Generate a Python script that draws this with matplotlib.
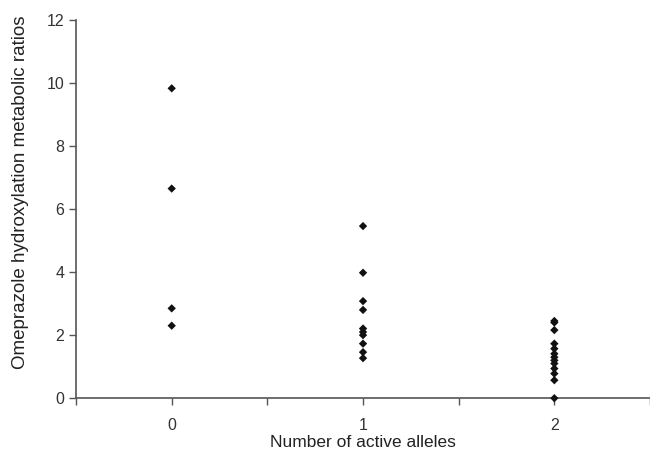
import matplotlib
matplotlib.use("Agg")
import matplotlib.pyplot as plt

alleles_0 = [9.83, 6.65, 2.85, 2.30]
alleles_1 = [5.46, 3.98, 3.08, 2.80, 2.21, 2.10, 2.00, 1.73, 1.46, 1.27]
alleles_2 = [2.45, 2.40, 2.16, 1.73, 1.57, 1.41, 1.30, 1.20, 1.10, 0.94, 0.78, 0.57, 0.0]
groups = [0, 1, 2]
series = [alleles_0, alleles_1, alleles_2]
xlabel = "Number of active alleles"
ylabel = "Omeprazole hydroxylation metabolic ratios"

plt.rcParams['font.family'] = ['Liberation Sans', 'DejaVu Sans']
fig = plt.figure(figsize=(6.5, 4.53), dpi=100)
ax = fig.add_axes([0.117, 0.121, 0.883, 0.835])

for g, vals in zip(groups, series):
    ax.scatter([g] * len(vals), vals, marker='D', s=18, color='#111111',
               edgecolors='none', zorder=3, clip_on=False)

ax.set_xlim(-0.5, 2.5)
ax.set_ylim(0, 12)
ax.set_xticks([-0.5, 0, 0.5, 1, 1.5, 2, 2.5])
ax.set_xticklabels(['', '0', '', '1', '', '2', ''])
ax.set_yticks(range(0, 13, 2))
for s in ['top', 'right']:
    ax.spines[s].set_visible(False)
for s in ['left', 'bottom']:
    ax.spines[s].set_color('#555555')
    ax.spines[s].set_linewidth(1.2)
ax.tick_params(axis='both', direction='out', length=5, width=1, color='#555555',
               labelsize=11.5, labelcolor='#333333')
ax.tick_params(axis='x', pad=9)
ax.set_xlabel(xlabel, fontsize=12.5, color='#222222', labelpad=2)
ax.set_ylabel(ylabel, fontsize=13.5, color='#222222')
ax.yaxis.set_label_coords(-0.082, 0.545)

fig.savefig('out.png', dpi=100)
